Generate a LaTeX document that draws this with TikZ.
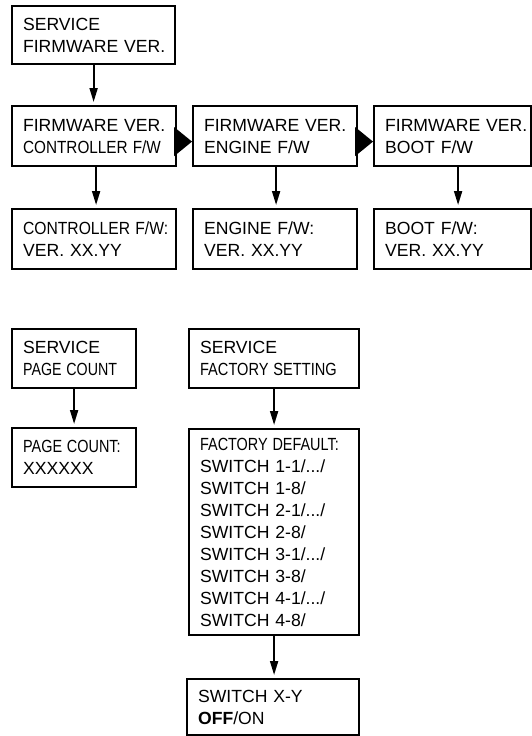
\documentclass[tikz,border=0pt]{standalone}
\usepackage{fontspec}
\setmainfont{Liberation Sans}
\usetikzlibrary{arrows.meta}
\newcommand{\cnd}[2][0.84]{\scalebox{#1}[1]{#2}}
\begin{document}
\begin{tikzpicture}[x=1pt,y=-1pt,
  box/.style={draw, line width=2.2pt, anchor=north west, inner xsep=11pt, inner ysep=0pt,
    align=left, font=\fontsize{17.6}{22}\selectfont},
  arr/.style={line width=1.8pt, -{Triangle[length=14pt,width=8pt]}, shorten >=3pt},
  bigtri/.style={fill=black}]
\useasboundingbox (0,0) rectangle (531,736);
% firmware section
\node[box, text width=141pt, minimum height=58pt] (s1) at (11,5) {SERVICE\\FIRMWARE~VER.};
\node[box, text width=142pt, minimum height=60pt] (fa) at (11,105) {FIRMWARE~VER.\\\cnd[0.87]{CONTROLLER F/W}};
\node[box, text width=142pt, minimum height=60pt] (fb) at (192,105) {FIRMWARE~VER.\\ENGINE~F/W};
\node[box, text width=135pt, minimum height=60pt] (fc) at (373,105) {FIRMWARE~VER.\\BOOT~F/W};
\node[box, text width=142pt, minimum height=60pt] (va) at (11,208) {\cnd[0.89]{CONTROLLER F/W:}\\VER.~XX.YY};
\node[box, text width=142pt, minimum height=60pt] (vb) at (192,208) {ENGINE~F/W:\\VER.~XX.YY};
\node[box, text width=135pt, minimum height=60pt] (vc) at (373,208) {BOOT~F/W:\\VER.~XX.YY};
% page count
\node[box, text width=102pt, minimum height=59pt] (pc) at (11,328) {SERVICE\\\cnd[0.81]{PAGE COUNT}};
\node[box, text width=102pt, minimum height=59pt] (pcv) at (11,427) {\cnd[0.82]{PAGE COUNT:}\\XXXXXX};
% factory setting
\node[box, text width=148pt, minimum height=59pt] (fs) at (188,328) {SERVICE\\\cnd[0.83]{FACTORY SETTING}};
\node[box, text width=148pt, minimum height=206pt] (fd) at (188,428) {\cnd[0.82]{FACTORY DEFAULT:}\\SWITCH~1-1/.../\\SWITCH~1-8/\\SWITCH~2-1/.../\\SWITCH~2-8/\\SWITCH~3-1/.../\\SWITCH~3-8/\\SWITCH~4-1/.../\\SWITCH~4-8/};
\node[box, text width=150pt, minimum height=56pt] (sw) at (186,678) {SWITCH~X-Y\\\textbf{OFF}/ON};
% connectors
\draw[arr] (s1.south) -- (s1.south |- fa.north);
\draw[arr] ([shift={(2,0)}]fa.south) -- ([shift={(2,0)}]fa.south |- va.north);
\draw[arr] ([shift={(1,0)}]fb.south) -- ([shift={(1,0)}]fb.south |- vb.north);
\draw[arr] ([shift={(5.5,0)}]fc.south) -- ([shift={(5.5,0)}]fc.south |- vc.north);
\draw[arr] (pc.south) -- (pc.south |- pcv.north);
\draw[arr] (fs.south) -- (fs.south |- fd.north);
\draw[arr] (fd.south) -- (fd.south |- sw.north);
\fill[bigtri] ([shift={(-3,-9)}]fa.east) -- ([shift={(0,5.5)}]fb.west) -- ([shift={(-3,20)}]fa.east) -- cycle;
\fill[bigtri] ([shift={(-3,-9)}]fb.east) -- ([shift={(0,5.5)}]fc.west) -- ([shift={(-3,20)}]fb.east) -- cycle;
\end{tikzpicture}
\end{document}
